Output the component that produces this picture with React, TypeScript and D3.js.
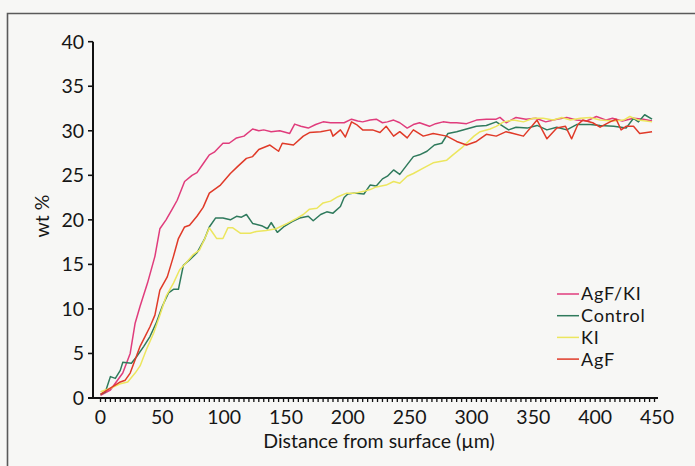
import React from "react";
import * as d3 from "d3";

// ---- data (distance µm, wt %) ----
const agfkiX = [0,8,18,24,28,32,38,44,48,53,58,62,68,74,78,83,88,92,99,104,110,116,123,128,132,138,145,153,157,162,168,174,180,186,191,197,203,208,212,218,223,228,232,237,242,248,253,258,266,271,277,283,288,296,304,312,320,323,328,336,344,352,360,369,377,385,393,401,409,414,422,431,439,446];
const agfkiY = [0.3,0.9,2.8,5.0,8.4,10.3,12.9,15.9,19.0,20.0,21.2,22.2,24.3,25.0,25.3,26.3,27.3,27.6,28.6,28.6,29.2,29.4,30.2,30.0,30.1,29.9,30.0,29.7,30.75,30.5,30.3,30.7,31.0,30.9,30.9,30.9,31.3,31.1,31.0,31.2,31.3,30.9,31.0,31.2,30.9,30.3,30.7,30.9,30.5,30.8,31.0,30.9,30.9,30.8,31.2,31.3,31.3,31.5,30.9,31.5,31.3,31.4,31.0,31.3,31.5,31.2,31.1,31.6,31.2,31.4,31.1,31.4,31.3,31.1];

const controlX = [0,4,8,12,16,18,25,29,35,40,45,50,55,59,63,67,72,78,84,88,93,99,105,110,114,118,123,131,135,138,143,148,155,161,168,172,178,183,188,194,197,200,205,213,218,223,228,232,237,242,248,253,258,264,270,276,281,288,296,304,312,320,330,336,345,353,361,369,377,385,396,404,415,425,431,435,440,446];
const controlY = [0.4,0.7,2.4,2.2,3.1,4.0,3.9,4.6,5.8,6.9,8.4,10.3,11.8,12.2,12.2,14.9,15.5,16.3,17.8,19.2,20.2,20.2,20.0,20.4,20.3,20.6,19.6,19.3,19.0,19.7,18.6,19.2,19.8,20.2,20.4,19.9,20.6,20.9,20.75,21.5,22.5,22.9,23.0,22.9,23.9,23.8,24.6,24.9,25.6,25.1,26.2,27.1,27.3,27.7,28.4,28.6,29.7,29.9,30.2,30.5,30.6,31.0,30.1,30.4,30.3,30.6,30.1,30.4,30.1,30.7,30.7,30.6,30.5,30.3,31.4,31.0,31.8,31.3];

const kiX = [0,8,16,22,28,32,37,43,48,53,59,64,70,75,80,84,88,91,94,99,103,107,113,121,126,134,142,151,159,164,169,175,180,186,192,199,206,213,218,223,231,237,242,248,253,261,269,280,285,293,302,307,315,320,326,334,342,350,358,366,373,380,388,396,404,415,423,428,435,441,446];
const kiY = [0.7,1.1,1.6,1.8,2.8,3.6,5.4,7.3,9.3,11.4,12.9,14.4,15.3,16.1,16.6,17.8,19.1,18.5,17.9,17.9,19.1,19.1,18.5,18.5,18.7,18.8,19.0,19.6,20.2,20.6,21.2,21.3,21.9,22.1,22.6,23.0,23.0,23.2,23.4,23.7,23.9,24.3,24.1,24.9,25.2,25.8,26.4,26.7,27.3,28.2,29.4,29.9,30.2,30.5,31.0,31.2,31.0,31.4,31.4,31.2,31.5,31.2,31.4,31.5,31.2,31.1,31.2,31.6,31.2,31.1,31.0];

const agfX = [0,8,16,20,24,28,32,36,40,44,48,54,59,63,68,72,78,83,88,97,105,111,118,123,128,137,144,147,156,164,169,178,186,188,194,198,203,207,212,220,226,231,237,242,248,253,261,269,280,288,296,304,312,320,328,342,353,361,369,376,381,386,390,398,404,412,417,421,425,431,436,446];
const agfY = [0.4,1.1,1.8,2.0,2.8,4.3,5.8,6.9,8.0,9.3,12.1,13.6,15.9,17.9,19.2,19.4,20.4,21.4,23.0,23.9,25.2,26.0,26.9,27.1,27.9,28.4,27.7,28.6,28.4,29.4,29.8,29.9,30.1,29.4,30.1,29.3,31.0,30.7,30.1,30.1,29.8,30.5,29.4,29.9,29.2,30.1,29.4,29.7,29.4,28.8,28.4,28.8,29.6,29.4,29.9,29.4,31.2,29.1,30.3,30.5,29.1,30.7,31.2,30.9,30.4,31.0,31.3,30.1,30.5,30.5,29.7,29.9];

const seriesNames = ["AgF/KI", "Control", "KI", "AgF"];
const seriesColors = ["#e03c7c", "#2f7a5c", "#ece65e", "#e03a28"];
const seriesXs = [agfkiX, controlX, kiX, agfX];
const seriesYs = [agfkiY, controlY, kiY, agfY];

const yTicks = [0, 5, 10, 15, 20, 25, 30, 35, 40];
const xTicks = [0, 50, 100, 150, 200, 250, 300, 350, 400, 450];
const xMinorStep = 4;

const W = 695;
const H = 466;

export default function App() {
  const x = d3.scaleLinear().domain([0, 450]).range([100.5, 657]);
  const y = d3.scaleLinear().domain([0, 40]).range([398, 41.7]);
  const axisLeft = 93;
  const line = d3
    .line<[number, number]>()
    .x((d) => x(d[0]))
    .y((d) => y(d[1]));

  const minor = d3.range(0, 450.01, xMinorStep);
  const font = "Lato, 'Noto Sans', sans-serif";
  const ink = "#161616";

  return (
    <svg
      width={W}
      height={H}
      style={{ position: "absolute", left: 0, top: 0, background: "#f7f7f5" }}
      fontFamily={font}
    >
      <rect x={0} y={0} width={W} height={H} fill="#f7f7f5" />
      {/* frame */}
      <path d={`M7.5,${H + 5} V13.5 H${W + 5}`} fill="none" stroke="#5a5a5a" strokeWidth={1.6} />

      {/* series */}
      {seriesNames.map((n, i) => {
        const pts = seriesXs[i].map((v, k) => [v, seriesYs[i][k]] as [number, number]);
        return (
          <path
            key={n}
            d={line(pts) || ""}
            fill="none"
            stroke={seriesColors[i]}
            strokeWidth={1.5}
            strokeLinejoin="round"
          />
        );
      })}

      {/* y axis */}
      <line x1={axisLeft} x2={axisLeft} y1={y(40)} y2={y(0)} stroke="#111" strokeWidth={2} />
      {yTicks.map((t) => (
        <g key={t}>
          <line x1={axisLeft - 5} x2={axisLeft} y1={y(t)} y2={y(t)} stroke="#111" strokeWidth={1.6} />
          <text x={84} y={y(t)} dy="0.36em" textAnchor="end" fontSize={19.5} fill={ink}>
            {t}
          </text>
        </g>
      ))}

      {/* x axis */}
      <line x1={axisLeft - 5} x2={x(450) + 1} y1={y(0)} y2={y(0)} stroke="#111" strokeWidth={2.2} />
      {minor.map((t) => (
        <line key={t} x1={x(t)} x2={x(t)} y1={y(0)} y2={y(0) + 4} stroke="#111" strokeWidth={1.3} />
      ))}
      {xTicks.map((t) => (
        <text key={t} x={x(t)} y={424} textAnchor="middle" fontSize={19.5} fill={ink}>
          {t}
        </text>
      ))}

      <text x={379} y={448} textAnchor="middle" fontSize={19.5} fill={ink}>
        Distance from surface (µm)
      </text>
      <text
        transform={`translate(49,216) rotate(-90)`}
        textAnchor="middle"
        fontSize={19.5}
        fill={ink}
      >
        wt %
      </text>

      {/* legend */}
      {seriesNames.map((n, i) => {
        const ly = 294 + i * 21.7;
        return (
          <g key={n}>
            <line x1={557} x2={579} y1={ly} y2={ly} stroke={seriesColors[i]} strokeWidth={1.5} />
            <text x={581} y={ly} dy="0.36em" fontSize={18} letterSpacing={0.8} fill={ink}>
              {n}
            </text>
          </g>
        );
      })}
    </svg>
  );
}
